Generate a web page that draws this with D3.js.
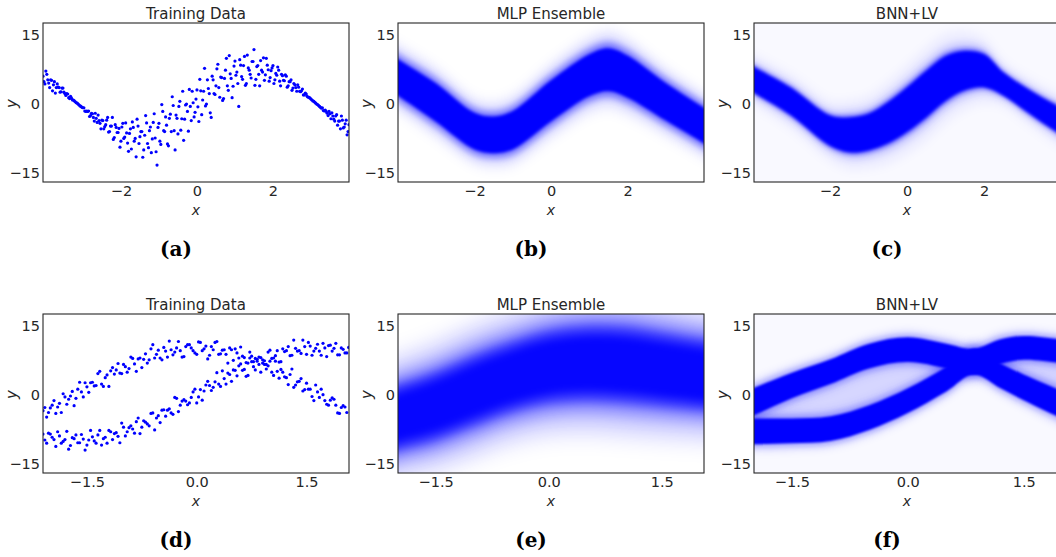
<!DOCTYPE html>
<html>
<head>
<meta charset="utf-8">
<script src="https://cdn.jsdelivr.net/npm/d3@7"></script>
<style>
  body { margin: 0; background: #fff; }
  text { font-family: "DejaVu Sans", sans-serif; fill: #262626; }
</style>
</head>
<body>
<svg id="chart" width="1056" height="557"></svg>
<script>
// ---- data ----
var titles = ["Training Data", "MLP Ensemble", "BNN+LV", "Training Data", "MLP Ensemble", "BNN+LV"];
var captions = ["(a)", "(b)", "(c)", "(d)", "(e)", "(f)"];
var yTicks = [-15, 0, 15];
var xTicksTop = [-2, 0, 2];
var xTicksBottom = [-1.5, 0, 1.5];
var xDomains = [[-4.05, 4.0], [-4.0, 4.0], [-3.97, 3.97], [-2.1, 2.08], [-2.0, 2.06], [-1.99, 1.97]];
var yDomain = [-17.1, 17.6];

// (a) training points
var trainA = [[-4.05,6.0],[-4.0,4.3],[-3.95,6.4],[-3.9,4.5],[-3.85,5.2],[-3.8,2.8],[-3.75,4.8],[-3.7,3.5],[-3.65,3.6],[-3.6,2.5],[-3.55,3.4],[-3.5,2.5],[-3.45,1.8],[-3.4,2.1],[-3.35,1.1],[-3.3,1.2],[-3.25,0.8],[-3.2,0.4],[-3.15,0.1],[-3.1,-0.3],[-3.05,-0.6],[-3.0,-0.9],[-2.95,-1.6],[-2.9,-1.6],[-2.85,-1.6],[-2.8,-2.6],[-2.75,-2.2],[-2.7,-3.8],[-2.65,-3.2],[-2.6,-2.5],[-2.55,-4.3],[-2.5,-3.6],[-2.45,-5.5],[-2.4,-4.6],[-2.35,-3.0],[-2.3,-6.1],[-2.25,-4.9],[-2.2,-7.8],[-2.15,-4.6],[-2.1,-6.3],[-2.05,-5.4],[-2.0,-8.2],[-1.95,-4.3],[-1.9,-7.3],[-1.85,-6.4],[-1.8,-10.4],[-1.75,-5.5],[-1.7,-4.0],[-1.65,-8.2],[-1.6,-11.6],[-1.55,-4.9],[-1.5,-7.2],[-1.45,-6.1],[-1.4,-10.1],[-1.35,-2.6],[-1.3,-8.7],[-1.25,-5.9],[-1.2,-10.7],[-1.15,-4.1],[-1.1,-7.5],[-1.05,-13.4],[-1.0,-4.3],[-0.95,-8.9],[-0.9,-1.7],[-0.85,-6.1],[-0.8,-4.7],[-0.75,-9.2],[-0.7,-2.3],[-0.65,1.5],[-0.6,-5.9],[-0.55,-2.5],[-0.5,-6.6],[-0.45,0.5],[-0.4,-3.3],[-0.35,-8.0],[-0.3,-0.3],[-0.25,-1.7],[-0.2,3.1],[-0.15,-3.7],[-0.1,0.2],[-0.05,-1.9],[0.0,3.0],[0.05,-3.9],[0.1,2.8],[0.15,0.8],[0.2,7.7],[0.25,-0.1],[0.3,3.3],[0.35,-2.0],[0.4,6.0],[0.45,2.2],[0.5,3.9],[0.55,8.6],[0.6,1.4],[0.65,5.7],[0.7,1.1],[0.75,7.3],[0.8,3.9],[0.85,10.5],[0.9,5.5],[0.95,3.8],[1.0,9.3],[1.05,6.9],[1.1,-0.6],[1.15,8.4],[1.2,5.3],[1.25,10.3],[1.3,4.4],[1.35,7.8],[1.4,6.4],[1.45,9.2],[1.5,11.8],[1.55,5.3],[1.6,8.3],[1.65,3.9],[1.7,7.3],[1.75,10.0],[1.8,6.3],[1.85,8.4],[1.9,4.9],[1.95,7.2],[2.0,8.3],[2.05,5.2],[2.1,6.2],[2.15,7.3],[2.2,3.9],[2.25,6.1],[2.3,5.0],[2.35,6.0],[2.4,3.9],[2.45,4.8],[2.5,2.9],[2.55,4.4],[2.6,3.5],[2.65,4.1],[2.7,2.7],[2.75,2.8],[2.8,1.9],[2.85,2.3],[2.9,1.6],[2.95,1.4],[3.0,1.0],[3.05,0.6],[3.1,0.3],[3.15,-0.1],[3.2,-0.4],[3.25,-0.8],[3.3,-0.9],[3.35,-1.6],[3.4,-1.7],[3.45,-2.6],[3.5,-2.2],[3.55,-2.0],[3.6,-3.4],[3.65,-2.7],[3.7,-4.7],[3.75,-3.8],[3.8,-2.7],[3.85,-5.3],[3.9,-4.4],[3.95,-6.8],[4.0,-4.6],
  [-4.025,4.8],[-3.975,7.1],[-3.925,5.2],[-3.875,3.5],[-3.825,5.1],[-3.775,4.1],[-3.725,2.3],[-3.675,4.3],[-3.625,3.5],[-3.575,2.6],[-3.525,3.4],[-3.475,2.2],[-3.425,2.2],[-3.375,1.3],[-3.325,1.6],[-3.275,0.8],[-3.225,0.6],[-3.175,0.2],[-3.125,-0.1],[-3.075,-0.5],[-3.025,-0.8],[-2.975,-0.9],[-2.925,-1.7],[-2.875,-1.7],[-2.825,-2.8],[-2.775,-2.1],[-2.725,-3.0],[-2.675,-2.1],[-2.625,-4.1],[-2.575,-3.7],[-2.525,-5.5],[-2.475,-3.7],[-2.425,-5.0],[-2.375,-3.6],[-2.325,-6.2],[-2.275,-4.9],[-2.225,-3.0],[-2.175,-7.4],[-2.125,-5.2],[-2.075,-6.3],[-2.025,-9.5],[-1.975,-5.1],[-1.925,-7.6],[-1.875,-4.2],[-1.825,-8.6],[-1.775,-6.5],[-1.725,-9.9],[-1.675,-5.2],[-1.625,-7.6],[-1.575,-3.4],[-1.525,-8.7],[-1.475,-6.1],[-1.425,-11.7],[-1.375,-6.9],[-1.325,-4.2],[-1.275,-9.6],[-1.225,-5.1],[-1.175,-7.7],[-1.125,-2.2],[-1.075,-10.5],[-1.025,-5.2],[-0.975,-8.2],[-0.925,-0.2],[-0.875,-5.9],[-0.825,-2.9],[-0.775,-8.8],[-0.725,-3.2],[-0.675,-6.1],[-0.625,-0.4],[-0.575,-10.1],[-0.525,-3.2],[-0.475,-0.6],[-0.425,-5.8],[-0.375,2.7],[-0.325,-3.4],[-0.275,-0.1],[-0.225,-6.0],[-0.175,-0.6],[-0.125,2.7],[-0.075,-2.9],[-0.025,1.0],[0.025,-0.7],[0.075,5.3],[0.125,-2.4],[0.175,2.7],[0.225,-0.5],[0.275,5.2],[0.325,2.2],[0.375,-3.0],[0.425,5.2],[0.475,2.0],[0.525,7.6],[0.575,3.5],[0.625,5.8],[0.675,0.7],[0.725,5.5],[0.775,9.9],[0.825,2.9],[0.875,6.5],[0.925,1.3],[0.975,8.2],[1.025,6.2],[1.075,4.4],[1.125,9.6],[1.175,5.9],[1.225,8.3],[1.275,4.0],[1.325,10.6],[1.375,7.3],[1.425,5.6],[1.475,9.2],[1.525,4.0],[1.575,8.1],[1.625,6.4],[1.675,9.4],[1.725,6.9],[1.775,5.1],[1.825,9.9],[1.875,7.4],[1.925,5.7],[1.975,7.8],[2.025,4.4],[2.075,6.6],[2.125,8.0],[2.175,4.9],[2.225,6.4],[2.275,5.1],[2.325,6.3],[2.375,3.6],[2.425,4.8],[2.475,5.2],[2.525,3.4],[2.575,4.1],[2.625,2.7],[2.675,3.6],[2.725,2.6],[2.775,3.2],[2.825,1.9],[2.875,2.1],[2.925,1.4],[2.975,1.2],[3.025,0.8],[3.075,0.5],[3.125,0.1],[3.175,-0.2],[3.225,-0.6],[3.275,-1.0],[3.325,-1.5],[3.375,-1.4],[3.425,-2.1],[3.475,-1.7],[3.525,-3.3],[3.575,-2.7],[3.625,-3.8],[3.675,-2.4],[3.725,-3.8],[3.775,-5.5],[3.825,-3.6],[3.875,-5.1],[3.925,-3.6],[3.975,-6.1]];

// (d) training points, two branches
var trainDUpper = [[-2.1,-3.5],[-2.05,-4.9],[-2.0,-2.9],[-1.95,-1.3],[-1.9,-2.7],[-1.85,-3.9],[-1.8,-0.5],[-1.75,-1.0],[-1.7,0.7],[-1.65,-0.8],[-1.6,2.7],[-1.55,-0.5],[-1.5,1.7],[-1.45,2.6],[-1.4,1.9],[-1.35,4.6],[-1.3,2.3],[-1.25,3.7],[-1.2,1.8],[-1.15,5.9],[-1.1,5.4],[-1.05,4.7],[-1.0,6.6],[-0.95,4.9],[-0.9,8.2],[-0.85,6.7],[-0.8,7.8],[-0.75,5.9],[-0.7,8.9],[-0.65,7.6],[-0.6,10.9],[-0.55,8.8],[-0.5,8.0],[-0.45,10.3],[-0.4,8.2],[-0.35,9.8],[-0.3,9.3],[-0.25,11.6],[-0.2,8.2],[-0.15,10.5],[-0.1,10.9],[-0.05,9.6],[0.0,8.8],[0.05,11.4],[0.1,10.0],[0.15,7.8],[0.2,10.5],[0.25,11.4],[0.3,8.8],[0.35,9.7],[0.4,8.8],[0.45,10.2],[0.5,7.5],[0.55,9.1],[0.6,10.4],[0.65,8.1],[0.7,6.9],[0.75,8.4],[0.8,5.4],[0.85,8.2],[0.9,6.9],[0.95,5.6],[1.0,7.3],[1.05,4.2],[1.1,5.1],[1.15,5.5],[1.2,3.9],[1.25,2.2],[1.3,5.6],[1.35,2.1],[1.4,2.9],[1.45,0.8],[1.5,2.5],[1.55,1.2],[1.6,-1.3],[1.65,0.6],[1.7,1.2],[1.75,-1.3],[1.8,-2.3],[1.85,-0.7],[1.9,-2.3],[1.95,-4.1],[2.0,-2.4],[2.05,-3.9],
  [-2.075,-2.8],[-2.025,-3.9],[-1.975,-2.3],[-1.925,-4.1],[-1.875,-1.9],[-1.825,0.2],[-1.775,-2.1],[-1.725,-0.3],[-1.675,-2.4],[-1.625,1.2],[-1.575,0.6],[-1.525,2.6],[-1.475,0.5],[-1.425,2.7],[-1.375,2.0],[-1.325,5.1],[-1.275,1.8],[-1.225,4.3],[-1.175,5.2],[-1.125,4.5],[-1.075,6.8],[-1.025,4.6],[-0.975,6.1],[-0.925,5.7],[-0.875,7.9],[-0.825,5.1],[-0.775,8.0],[-0.725,7.7],[-0.675,6.9],[-0.625,10.0],[-0.575,8.0],[-0.525,9.7],[-0.475,7.6],[-0.425,9.5],[-0.375,11.7],[-0.325,8.7],[-0.275,10.2],[-0.225,9.6],[-0.175,8.3],[-0.125,10.9],[-0.075,10.2],[-0.025,9.1],[0.025,11.5],[0.075,9.6],[0.125,10.6],[0.175,8.6],[0.225,9.8],[0.275,11.6],[0.325,8.9],[0.375,9.8],[0.425,6.9],[0.475,9.8],[0.525,10.0],[0.575,8.0],[0.625,8.4],[0.675,7.0],[0.725,9.3],[0.775,7.2],[0.825,7.7],[0.875,4.9],[0.925,7.4],[0.975,6.3],[1.025,4.9],[1.075,7.3],[1.125,3.6],[1.175,4.9],[1.225,3.7],[1.275,4.4],[1.325,1.6],[1.375,2.8],[1.425,3.5],[1.475,1.1],[1.525,1.2],[1.575,-0.4],[1.625,2.1],[1.675,-0.6],[1.725,0.0],[1.775,-2.1],[1.825,-1.2],[1.875,-1.0],[1.925,-4.0],[1.975,-2.8],[2.025,-2.7]];
var trainDLower = [[-2.075,-9.9],[-2.025,-8.4],[-1.975,-9.3],[-1.925,-11.3],[-1.875,-9.0],[-1.825,-10.2],[-1.775,-8.0],[-1.725,-11.1],[-1.675,-9.6],[-1.625,-10.5],[-1.575,-8.7],[-1.525,-12.1],[-1.475,-9.9],[-1.425,-9.2],[-1.375,-10.6],[-1.325,-7.8],[-1.275,-9.6],[-1.225,-10.6],[-1.175,-8.1],[-1.125,-8.5],[-1.075,-9.1],[-1.025,-6.2],[-0.975,-9.0],[-0.925,-7.2],[-0.875,-7.5],[-0.825,-5.9],[-0.775,-8.5],[-0.725,-5.7],[-0.675,-6.4],[-0.625,-4.1],[-0.575,-7.7],[-0.525,-4.6],[-0.475,-3.4],[-0.425,-4.7],[-0.375,-3.1],[-0.325,-4.3],[-0.275,-0.8],[-0.225,-2.3],[-0.175,-1.1],[-0.125,-2.2],[-0.075,-0.6],[-0.025,1.2],[0.025,-0.5],[0.075,-1.2],[0.125,2.1],[0.175,2.0],[0.225,1.6],[0.275,4.8],[0.325,1.8],[0.375,3.5],[0.425,4.7],[0.475,2.9],[0.525,5.3],[0.575,6.3],[0.625,5.3],[0.675,4.0],[0.725,8.0],[0.775,6.1],[0.825,7.3],[0.875,8.1],[0.925,6.6],[0.975,9.3],[1.025,7.9],[1.075,8.5],[1.125,7.1],[1.175,10.0],[1.225,9.6],[1.275,8.5],[1.325,11.9],[1.375,9.5],[1.425,9.0],[1.475,10.5],[1.525,11.4],[1.575,8.6],[1.625,10.1],[1.675,9.5],[1.725,11.2],[1.775,8.3],[1.825,10.8],[1.875,10.1],[1.925,8.7],[1.975,10.2],[2.025,9.1],[2.075,10.3],
  [-2.1,-8.6],[-2.05,-10.6],[-2.0,-8.6],[-1.95,-9.8],[-1.9,-8.1],[-1.85,-10.6],[-1.8,-9.8],[-1.75,-11.9],[-1.7,-9.4],[-1.65,-8.8],[-1.6,-10.5],[-1.55,-9.7],[-1.5,-11.0],[-1.45,-7.8],[-1.4,-10.1],[-1.35,-8.8],[-1.3,-11.0],[-1.25,-9.3],[-1.2,-7.8],[-1.15,-9.8],[-1.1,-8.3],[-1.05,-10.5],[-1.0,-7.1],[-0.95,-8.1],[-0.9,-6.8],[-0.85,-8.4],[-0.8,-5.1],[-0.75,-7.1],[-0.7,-6.0],[-0.65,-6.8],[-0.6,-4.0],[-0.55,-5.1],[-0.5,-6.1],[-0.45,-3.3],[-0.4,-3.4],[-0.35,-4.0],[-0.3,-0.6],[-0.25,-3.7],[-0.2,-1.4],[-0.15,-1.4],[-0.1,-1.8],[-0.05,0.6],[0.0,-1.8],[0.05,1.1],[0.1,0.8],[0.15,2.9],[0.2,0.9],[0.25,2.8],[0.3,2.3],[0.35,5.2],[0.4,2.3],[0.45,4.4],[0.5,5.4],[0.55,4.1],[0.6,6.7],[0.65,5.5],[0.7,4.2],[0.75,7.2],[0.8,7.9],[0.85,6.6],[0.9,7.6],[0.95,6.6],[1.0,9.7],[1.05,8.0],[1.1,9.6],[1.15,7.2],[1.2,9.4],[1.25,10.5],[1.3,8.6],[1.35,10.1],[1.4,9.6],[1.45,11.9],[1.5,8.8],[1.55,10.6],[1.6,9.5],[1.65,11.0],[1.7,8.6],[1.75,10.2],[1.8,10.7],[1.85,9.5],[1.9,11.2],[1.95,8.7],[2.0,9.9],[2.05,9.1]];

// (b) MLP ensemble band: knots, centre, half-width of the dense core
var mlpTopX = [-4.0, -3, -2, -1.5, -1, 0, 1, 1.5, 2, 3, 4.0];
var mlpTopC = [5.7, 0.2, -6.0, -6.8, -5.8, 0.6, 6.2, 7.4, 5.9, 0.4, -4.8];
var mlpTopW = [4.0, 4.2, 4.0, 4.0, 4.2, 4.5, 4.6, 4.7, 4.6, 4.1, 3.9];

// (c) BNN+LV band
var bnnTopX = [-3.97, -3, -2, -1.5, -1, -0.5, 0, 0.5, 1, 1.5, 2, 2.5, 3, 3.5, 3.97];
var bnnTopC = [5.2, 0.4, -5.9, -6.8, -6.2, -4.2, -1.3, 2.1, 5.5, 7.2, 7.2, 4.3, 1.4, -1.35, -3.7];
var bnnTopW = [2.8, 3.0, 3.3, 3.8, 4.0, 4.5, 4.9, 5.1, 4.9, 4.3, 3.6, 2.5, 2.5, 2.7, 2.9];

// (e) MLP ensemble band
var mlpBotX = [-2.0, -1.5, -1, -0.5, 0, 0.5, 1, 1.5, 2.06];
var mlpBotC = [-5.0, -2.5, 0.8, 3.8, 6.0, 6.8, 6.5, 5.5, 4.3];
var mlpBotW = [6.5, 6.8, 7.0, 7.0, 7.2, 7.4, 7.5, 7.3, 7.0];

// (f) BNN+LV, two bands
var bnnBotX = [-1.99, -1.5, -1, -0.5, 0, 0.5, 0.85, 1.2, 1.5, 1.97];
var bnnBotUpperC = [-1.5, 2.0, 5.0, 8.4, 9.8, 8.4, 7.2, 9.4, 10.2, 9.5];
var bnnBotUpperW = [3.0, 2.8, 2.7, 2.7, 2.7, 2.7, 2.8, 2.7, 2.6, 2.6];
var bnnBotLowerC = [-8.0, -7.9, -7.4, -5.0, -1.3, 3.4, 7.2, 4.1, 1.6, -2.0];
var bnnBotLowerW = [2.8, 2.7, 2.7, 2.7, 2.7, 2.7, 2.8, 2.7, 2.8, 3.0];

// ---- layout ----
var svg = d3.select("#chart"),
  defs = svg.append("defs"),
  colLeft = [43, 398, 754],
  rowTop = [23, 314],
  pw = 306,
  ph = 159,
  capX = [176, 531, 887],
  capY = [256, 547],
  blue = "#0000ff";

function blur(s) {
  var id = "blur" + String(s).replace(".", "_");
  if (defs.select("#" + id).empty()) {
    defs.append("filter").attr("id", id)
      .attr("filterUnits", "userSpaceOnUse")
      .attr("x", -100).attr("y", -100).attr("width", 1300).attr("height", 800)
      .append("feGaussianBlur").attr("stdDeviation", s);
  }
  return "url(#" + id + ")";
}

function knots(xs, cs, ws) {
  var pts = xs.map(function(x, i) { return { x: x, c: cs[i], w: ws[i] }; });
  // pad the ends so the blur does not fade at the frame
  var a = pts[0], b = pts[pts.length - 1];
  pts.unshift({ x: a.x - 0.4, c: a.c + (a.c - pts[1].c) * 0.4 / (pts[1].x - a.x), w: a.w });
  pts.push({ x: b.x + 0.4, c: b.c + (b.c - pts[pts.length - 2].c) * 0.4 / (b.x - pts[pts.length - 2].x), w: b.w });
  return pts;
}

function drawBand(g, x, y, pts, layers) {
  layers.forEach(function(l) {
    var area = d3.area()
      .x(function(d) { return x(d.x); })
      .y0(function(d) { return y(d.c - l.k * d.w); })
      .y1(function(d) { return y(d.c + l.k * d.w); })
      .curve(d3.curveCatmullRom.alpha(0.5));
    g.append("path")
      .attr("d", area(pts))
      .attr("fill", blue)
      .attr("fill-opacity", l.op)
      .attr("filter", blur(l.b));
  });
}

var mlpLayers = [{k: 2.0, op: 0.05, b: 5}, {k: 1.55, op: 0.14, b: 4}, {k: 1.25, op: 0.45, b: 3}, {k: 1.0, op: 1, b: 1.5}];
var bnnLayers = [{k: 2.0, op: 0.05, b: 5}, {k: 1.45, op: 0.14, b: 3}, {k: 1.15, op: 0.45, b: 2}, {k: 1.0, op: 1, b: 1.5}];
var wideLayers = [{k: 2.3, op: 0.07, b: 8}, {k: 1.9, op: 0.13, b: 7}, {k: 1.5, op: 0.28, b: 6}, {k: 1.15, op: 0.6, b: 5}, {k: 0.85, op: 0.9, b: 4}];
var twinLayers = [{k: 1.7, op: 0.07, b: 3}, {k: 1.3, op: 0.25, b: 2.5}, {k: 1.0, op: 1, b: 1.2}];

titles.forEach(function(title, i) {
  var col = i % 3, row = Math.floor(i / 3),
    left = colLeft[col], top = rowTop[row];
  var x = d3.scaleLinear().domain(xDomains[i]).range([left, left + pw]);
  var y = d3.scaleLinear().domain(yDomain).range([top + ph, top]);

  defs.append("clipPath").attr("id", "clip" + i)
    .append("rect").attr("x", left).attr("y", top).attr("width", pw).attr("height", ph);

  var g = svg.append("g").attr("clip-path", "url(#clip" + i + ")");

  if (i === 0 || i === 3) {
    var pts = i === 0 ? trainA : trainDUpper.concat(trainDLower);
    g.selectAll("circle").data(pts).enter().append("circle")
      .attr("cx", function(d) { return x(d[0]); })
      .attr("cy", function(d) { return y(d[1]); })
      .attr("r", 1.6)
      .attr("fill", blue);
  } else if (i === 1) {
    drawBand(g, x, y, knots(mlpTopX, mlpTopC, mlpTopW), mlpLayers);
  } else if (i === 2) {
    g.append("rect").attr("x", left).attr("y", top).attr("width", pw).attr("height", ph)
      .attr("fill", blue).attr("fill-opacity", 0.025);
    drawBand(g, x, y, knots(bnnTopX, bnnTopC, bnnTopW), bnnLayers);
  } else if (i === 4) {
    drawBand(g, x, y, knots(mlpBotX, mlpBotC, mlpBotW), wideLayers);
  } else if (i === 5) {
    g.append("rect").attr("x", left).attr("y", top).attr("width", pw).attr("height", ph)
      .attr("fill", blue).attr("fill-opacity", 0.025);
    var up = knots(bnnBotX, bnnBotUpperC, bnnBotUpperW),
      lo = knots(bnnBotX, bnnBotLowerC, bnnBotLowerW);
    // faint mass between the two branches
    var between = d3.area()
      .x(function(d) { return x(d.x); })
      .y0(function(d, j) { return y(lo[j].c); })
      .y1(function(d) { return y(d.c); })
      .curve(d3.curveCatmullRom.alpha(0.5));
    g.append("path").attr("d", between(up))
      .attr("fill", blue).attr("fill-opacity", 0.14).attr("filter", blur(4));
    drawBand(g, x, y, up, twinLayers);
    drawBand(g, x, y, lo, twinLayers);
  }

  // frame
  svg.append("rect")
    .attr("x", left).attr("y", top).attr("width", pw).attr("height", ph)
    .attr("fill", "none").attr("stroke", "#262626").attr("stroke-width", 1.1);

  // axes
  var fmtX = row === 0 ? d3.format("d") : d3.format(".1f");
  var xAxis = svg.append("g")
    .attr("transform", "translate(0," + (top + ph) + ")")
    .call(d3.axisBottom(x).tickValues(row === 0 ? xTicksTop : xTicksBottom)
      .tickFormat(fmtX).tickSize(0).tickPadding(4));
  var yAxis = svg.append("g")
    .attr("transform", "translate(" + left + ",0)")
    .call(d3.axisLeft(y).tickValues(yTicks).tickFormat(d3.format("d")).tickSize(0).tickPadding(3));
  [xAxis, yAxis].forEach(function(a) {
    a.select(".domain").remove();
    a.selectAll("text").attr("font-family", "DejaVu Sans").attr("font-size", "14.5px").style("fill", "#262626");
  });

  // titles and axis labels
  svg.append("text")
    .attr("x", left + pw / 2).attr("y", top - 4)
    .attr("text-anchor", "middle").attr("font-size", "15px")
    .text(title);
  svg.append("text")
    .attr("x", left + pw / 2).attr("y", top + ph + 33)
    .attr("text-anchor", "middle").attr("font-size", "14px").attr("font-style", "italic")
    .text("x");
  svg.append("text")
    .attr("transform", "translate(" + (left - 26) + "," + y(0) + ") rotate(-90)")
    .attr("text-anchor", "middle").attr("font-size", "15px").attr("font-style", "italic")
    .text("y");

  // sub-figure caption
  svg.append("text")
    .attr("x", capX[col]).attr("y", capY[row])
    .attr("text-anchor", "middle")
    .style("font-family", "'DejaVu Serif', serif")
    .attr("font-weight", "bold").attr("font-size", "20px")
    .style("fill", "#000")
    .text(captions[i]);
});
</script>
</body>
</html>
